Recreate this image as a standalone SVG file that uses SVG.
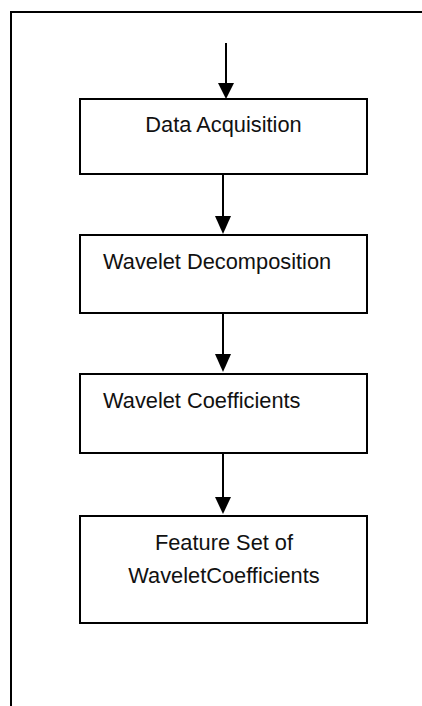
<svg xmlns="http://www.w3.org/2000/svg" width="422" height="706" viewBox="0 0 422 706">
<style>
.frame{fill:none;stroke:#000;stroke-width:2}
.box{fill:#fff;stroke:#000;stroke-width:2}
.ln{stroke:#000;stroke-width:2;fill:none}
.hd{fill:#000;stroke:none}
.t{font-family:"Liberation Sans",Arial,sans-serif;font-size:21.8px;fill:#111}
</style>
<rect width="422" height="706" fill="#fff"/>
<rect class="frame" x="11" y="12" width="430" height="720"/>
<g id="connectors">
<line class="ln" x1="226" y1="43" x2="226" y2="85"/>
<polygon class="hd" points="218,83 234,83 226,99"/>
<line class="ln" x1="223" y1="174" x2="223" y2="218"/>
<polygon class="hd" points="215,216 231,216 223,234"/>
<line class="ln" x1="223" y1="313" x2="223" y2="356"/>
<polygon class="hd" points="215,354 231,354 223,372"/>
<line class="ln" x1="223" y1="453" x2="223" y2="499"/>
<polygon class="hd" points="215,497 231,497 223,514"/>
</g>
<g id="node1">
<rect class="box" x="80" y="99" width="287" height="75"/>
<text class="t" x="223.5" y="132" text-anchor="middle">Data Acquisition</text>
</g>
<g id="node2">
<rect class="box" x="80" y="235" width="287" height="78"/>
<text class="t" x="103" y="269">Wavelet Decomposition</text>
</g>
<g id="node3">
<rect class="box" x="80" y="374" width="287" height="79"/>
<text class="t" x="103" y="408">Wavelet Coefficients</text>
</g>
<g id="node4">
<rect class="box" x="80" y="516" width="287" height="107"/>
<text class="t" x="224" y="550" text-anchor="middle">Feature Set of</text>
<text class="t" x="224" y="583" text-anchor="middle">WaveletCoefficients</text>
</g>
</svg>
